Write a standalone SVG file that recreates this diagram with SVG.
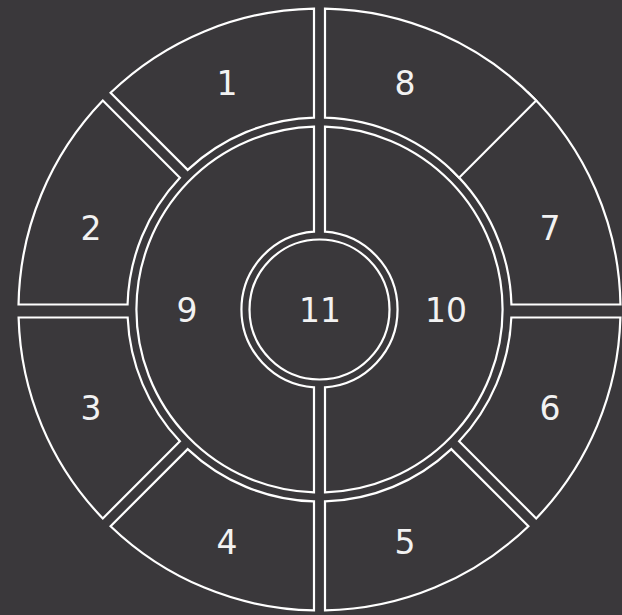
<svg xmlns="http://www.w3.org/2000/svg" width="622" height="615" viewBox="0 0 622 615">
<style>
.seg{fill:#3a383b;stroke:#ffffff;stroke-width:2.2;stroke-linejoin:miter}
.lbl{font-family:"DejaVu Sans",Verdana,sans-serif;font-size:33px;fill:#f2f2f2;text-anchor:middle}
</style>
<rect width="622" height="615" fill="#3a383b"/>
<g id="connectors"></g>
<g id="n1"><path class="seg" d="M 314.0 8.55 A 301 301 0 0 0 110.58 92.8 L 187.68 169.9 A 192 192 0 0 1 314.0 117.58 Z"/><text class="lbl" x="227" y="95">1</text></g>
<g id="n2"><path class="seg" d="M 102.8 100.58 A 301 301 0 0 0 18.54 304.5 L 127.57 304.5 A 192 192 0 0 1 179.9 177.68 Z"/><text class="lbl" x="91" y="240">2</text></g>
<g id="n3"><path class="seg" d="M 18.61 317.5 A 301 301 0 0 0 102.8 518.42 L 179.9 441.32 A 192 192 0 0 1 127.67 317.5 Z"/><text class="lbl" x="91" y="420">3</text></g>
<g id="n4"><path class="seg" d="M 110.58 526.2 A 301 301 0 0 0 314.0 610.45 L 314.0 501.42 A 192 192 0 0 1 187.68 449.1 Z"/><text class="lbl" x="227" y="554">4</text></g>
<g id="n5"><path class="seg" d="M 325.0 610.45 A 301 301 0 0 0 528.42 526.2 L 451.32 449.1 A 192 192 0 0 1 325.0 501.42 Z"/><text class="lbl" x="405" y="554">5</text></g>
<g id="n6"><path class="seg" d="M 536.2 518.42 A 301 301 0 0 0 620.39 317.5 L 511.33 317.5 A 192 192 0 0 1 459.1 441.32 Z"/><text class="lbl" x="550" y="420">6</text></g>
<g id="n7"><path class="seg" d="M 620.46 304.5 A 301 301 0 0 0 528.42 92.8 L 451.32 169.9 A 192 192 0 0 1 511.43 304.5 Z"/><text class="lbl" x="550" y="240">7</text></g>
<g id="n8"><path class="seg" d="M 536.2 100.58 A 301 301 0 0 0 325.0 8.55 L 325.0 117.58 A 192 192 0 0 1 459.1 177.68 Z"/><text class="lbl" x="405" y="95">8</text></g>
<g id="n9"><path class="seg" d="M 314 126.58 A 183 183 0 0 0 314 492.42 L 314 387.31 A 78 78 0 0 1 314 231.69 Z"/><text class="lbl" x="187" y="322">9</text></g>
<g id="n10"><path class="seg" d="M 325 492.42 A 183 183 0 0 0 325 126.58 L 325 231.69 A 78 78 0 0 1 325 387.31 Z"/><text class="lbl" x="446" y="322">10</text></g>
<g id="n11"><circle class="seg" cx="319.5" cy="309.5" r="70"/><text class="lbl" x="320" y="322">11</text></g>
</svg>
